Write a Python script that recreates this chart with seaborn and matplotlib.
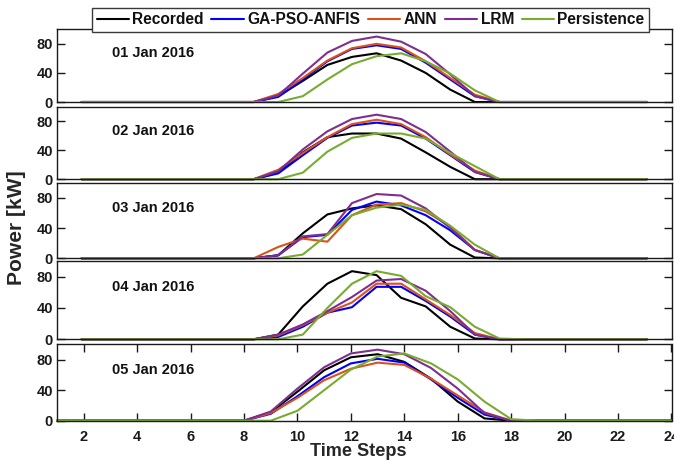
import numpy as np
import pandas as pd
import matplotlib
matplotlib.use("Agg")
import matplotlib.pyplot as plt
from matplotlib import font_manager
import seaborn as sns

# ---------------- data ----------------
hours = list(range(1, 25))
models = ["Recorded", "GA-PSO-ANFIS", "ANN", "LRM", "Persistence"]
colors = ["#000000", "#0000FF", "#D95319", "#7E2F8E", "#77AC30"]
day_labels = ["01 Jan 2016", "02 Jan 2016", "03 Jan 2016", "04 Jan 2016", "05 Jan 2016"]

z8 = [0] * 8
z7 = [0] * 7
z6 = [0] * 6

rec1 = z8 + [8, 29, 51, 62, 67, 57, 40, 17, 0] + z7
ga1 = z8 + [7, 31, 56, 73, 78, 73, 54, 31, 8] + z7
ann1 = z8 + [11, 33, 57, 74, 80, 75, 56, 33, 10] + z7
lrm1 = z8 + [9, 39, 68, 84, 90, 83, 66, 38, 8] + z7
per1 = z8 + [0, 8, 31, 52, 63, 67, 56, 39, 16, 0] + z6

rec2 = z8 + [9, 37, 58, 63, 63, 56, 37, 17, 0] + z7
ga2 = z8 + [8, 33, 57, 74, 78, 74, 56, 33, 10] + z7
ann2 = z8 + [13, 36, 58, 76, 82, 76, 58, 34, 12] + z7
lrm2 = z8 + [11, 41, 66, 83, 89, 83, 65, 38, 10] + z7
per2 = z8 + [0, 9, 38, 57, 63, 63, 56, 36, 18, 0] + z6

rec3 = z8 + [4, 33, 58, 66, 70, 65, 45, 18, 1] + z7
ga3 = z8 + [4, 28, 31, 64, 75, 70, 57, 37, 11] + z7
ann3 = z8 + [15, 26, 22, 57, 71, 73, 62, 42, 11] + z7
lrm3 = z8 + [4, 29, 32, 73, 85, 83, 66, 40, 11] + z7
per3 = z8 + [0, 5, 31, 57, 67, 71, 64, 43, 18, 0] + z6

rec4 = z8 + [6, 42, 71, 87, 82, 53, 42, 16, 1] + z7
ga4 = z8 + [3, 16, 34, 41, 67, 67, 49, 29, 6] + z7
ann4 = z8 + [5, 18, 34, 47, 71, 71, 51, 31, 8] + z7
lrm4 = z8 + [6, 19, 36, 54, 75, 77, 62, 36, 6] + z7
per4 = z8 + [0, 6, 40, 71, 87, 81, 55, 41, 16, 1] + z6

rec5 = z8 + [11, 38, 66, 83, 87, 77, 55, 25, 3] + z7
ga5 = z8 + [9, 32, 57, 75, 81, 76, 54, 30, 8] + z7
ann5 = z8 + [10, 30, 53, 68, 76, 73, 55, 33, 11] + z7
lrm5 = z8 + [12, 42, 70, 88, 93, 87, 69, 42, 10] + z7
per5 = z8 + [0, 13, 40, 67, 84, 88, 75, 54, 25, 2] + z6

days = [
    [rec1, ga1, ann1, lrm1, per1],
    [rec2, ga2, ann2, lrm2, per2],
    [rec3, ga3, ann3, lrm3, per3],
    [rec4, ga4, ann4, lrm4, per4],
    [rec5, ga5, ann5, lrm5, per5],
]

yticks = [0, 40, 80]
xticks_bottom = list(range(2, 25, 2))

# ---------------- style ----------------
sns.set_style("white")
names = {f.name for f in font_manager.fontManager.ttflist}
narrow = "Liberation Sans Narrow" in names
fam = "Liberation Sans Narrow" if narrow else ("Liberation Sans" if "Liberation Sans" in names else "DejaVu Sans")
k = 1.0 if narrow else 0.84
plt.rcParams["font.family"] = [fam, "DejaVu Sans"]
plt.rcParams["font.weight"] = "bold"

fig = plt.figure(figsize=(6.74, 4.68), dpi=100)
fig.patch.set_facecolor("white")
H = 468.0
left = 57 / 674.0
width = (671.5 - 57) / 674.0
panels_px = [(29.3, 102.0), (106.7, 179.2), (182.7, 258.3), (261.0, 339.3), (344.3, 420.7)]

palette = dict(zip(models, colors))
handles = None
for i, (top, bot) in enumerate(panels_px):
    ax = fig.add_axes([left, 1 - bot / H, width, (bot - top) / H])
    rows = []
    for m, vals in zip(models, days[i]):
        for h, v in zip(hours, vals):
            rows.append({"hour": h, "power": v, "model": m})
    df = pd.DataFrame(rows)
    sns.lineplot(data=df, x="hour", y="power", hue="model", hue_order=models,
                 palette=palette, linewidth=1.5, ax=ax, legend=False,
                 estimator=None, sort=True)
    for ln in ax.lines:
        ln.set_clip_on(False)
    ax.set_ylim(0, 100)
    ax.set_yticks(yticks)
    ax.set_xlabel("")
    ax.set_ylabel("")
    for s in ax.spines.values():
        s.set_visible(True)
        s.set_color("#1a1a1a")
        s.set_linewidth(1.0)
    ax.tick_params(axis="y", direction="in", left=True, right=True, length=6,
                   width=1.0, color="#1a1a1a", labelsize=12.5 * k, pad=3,
                   labelcolor="#1a1a1a")
    if i < 4:
        ax.set_xlim(0, 25)
        ax.set_xticks([])
    else:
        ax.set_xlim(1, 24)
        ax.set_xticks(xticks_bottom)
        ax.tick_params(axis="x", direction="in", bottom=True, top=True, length=6,
                       width=1.0, color="#1a1a1a", labelsize=12.5 * k, pad=7,
                       labelcolor="#1a1a1a")
    for lab in ax.get_xticklabels() + ax.get_yticklabels():
        lab.set_fontweight("bold")
    ax.text(0.089, 0.67, day_labels[i], transform=ax.transAxes, ha="left", va="center",
            fontsize=12.5 * k, fontweight="bold", color="#111111")
    if i == 0:
        handles = ax.lines[:5]

leg = fig.legend(handles, models, loc="center", bbox_to_anchor=(370.5 / 674, 1 - 20 / H),
                 ncol=5, frameon=True, fancybox=False, handlelength=2.1, handletextpad=0.2,
                 columnspacing=0.5, borderpad=0.3, borderaxespad=0,
                 prop={"family": [fam, "DejaVu Sans"], "weight": "bold", "size": 13.3 * k})
leg.get_frame().set_edgecolor("#3a3a3a")
leg.get_frame().set_linewidth(1.0)
leg.get_frame().set_alpha(1)
for t in leg.get_texts():
    t.set_color("#111111")

fig.text(358 / 674, 1 - 452 / H, "Time Steps", ha="center", va="center",
         fontsize=15.5 * k, fontweight="bold", color="#262626")
fig.text(17 / 674, 1 - 228 / H, "Power [kW]", ha="center", va="center", rotation=90,
         fontsize=18 * k, fontweight="bold", color="#262626")

fig.savefig("out.png", dpi=100, facecolor="white")
